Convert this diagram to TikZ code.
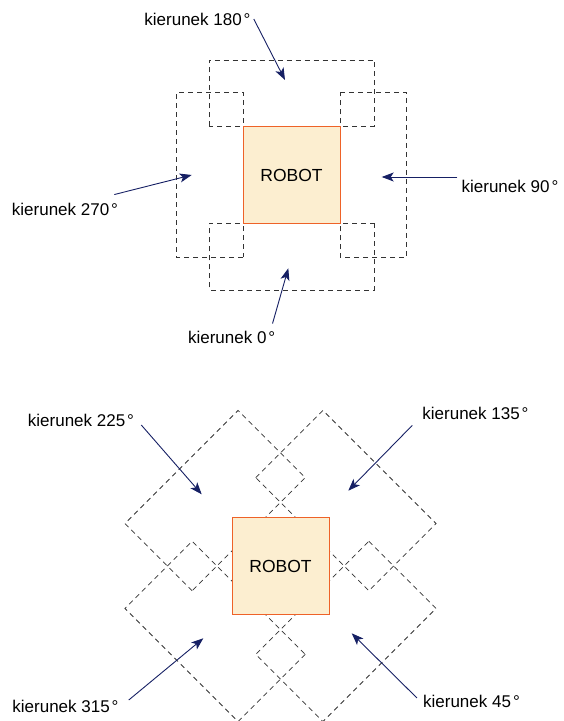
\documentclass[tikz,border=0pt]{standalone}
\usepackage{fontspec}
\setmainfont{Liberation Sans}
\usetikzlibrary{arrows.meta}

\definecolor{robotfill}{RGB}{252,238,208}
\definecolor{robotedge}{RGB}{238,98,40}
\definecolor{arrowblue}{RGB}{22,32,100}

\tikzset{
  robot/.style={draw=robotedge,fill=robotfill,line width=0.9pt,minimum size=97pt,inner sep=0pt,
    font=\fontsize{17.5}{20}\selectfont},
  footprint/.style={draw=black!80,line width=0.8pt,dash pattern=on 5pt off 4pt},
  dirlabel/.style={inner sep=2pt,font=\fontsize{17}{20}\selectfont},
  dirarrow/.style={-{Stealth[length=12pt,width=9pt,inset=3pt]},draw=arrowblue,line width=0.9pt}
}

\begin{document}
\begin{tikzpicture}[x=1pt,y=1pt]
      \useasboundingbox (0,0) rectangle (564,721);
      % straight moves
      \begin{scope}[shift={(291.5,546)}]
        \foreach \a in {0,90,180,270} \draw[footprint,rotate=\a] (-82.5,48.5) rectangle (82.5,115);
      \end{scope}
      % diagonal moves
      \begin{scope}[shift={(280.5,155)}]
        \foreach \a in {45,135,225,315} \draw[footprint,rotate=\a] (-80,45) rectangle (80,140);
      \end{scope}
      \node[robot] (robot1) at (291.5,546) {ROBOT};
      \node[robot] (robot2) at (280.5,155) {ROBOT};
      \node[dirlabel] (l180) at (197.5,702) {kierunek 180\kern2pt°};
      \node[dirlabel] (l270) at (65,512) {kierunek 270\kern2pt°};
      \node[dirlabel] (l90) at (510,535) {kierunek 90\kern2pt°};
      \node[dirlabel] (l0) at (231.7,384) {kierunek 0\kern2pt°};
      \node[dirlabel] (l225) at (81,301) {kierunek 225\kern2pt°};
      \node[dirlabel] (l135) at (475.5,308) {kierunek 135\kern2pt°};
      \node[dirlabel] (l315) at (65.5,15) {kierunek 315\kern2pt°};
      \node[dirlabel] (l45) at (471.5,20) {kierunek 45\kern2pt°};
      \coordinate (t180) at (285,641);
      \coordinate (t270) at (191.7,546);
      \coordinate (t90) at (381.7,544);
      \coordinate (t0) at (288.3,452.7);
      \coordinate (t225) at (201.7,226.7);
      \coordinate (t135) at (348.3,230.3);
      \coordinate (t315) at (203.3,82.7);
      \coordinate (t45) at (351.7,87.7);
      \draw[dirarrow] ([xshift=1pt]l180.east) -- (t180);
      \draw[dirarrow] ([shift={(-6,6)}]l270.north east) -- (t270);
      \draw[dirarrow] ([shift={(-2,9)}]l90.west) -- (t90);
      \draw[dirarrow] ([shift={(-5,5)}]l0.north east) -- (t0);
      \draw[dirarrow] ([shift={(5,-5)}]l225.east) -- (t225);
      \draw[dirarrow] ([shift={(-8,-4)}]l135.south west) -- (t135);
      \draw[dirarrow] ([shift={(8,6)}]l315.east) -- (t315);
      \draw[dirarrow] ([shift={(-4,3)}]l45.west) -- (t45);
\end{tikzpicture}
\end{document}
